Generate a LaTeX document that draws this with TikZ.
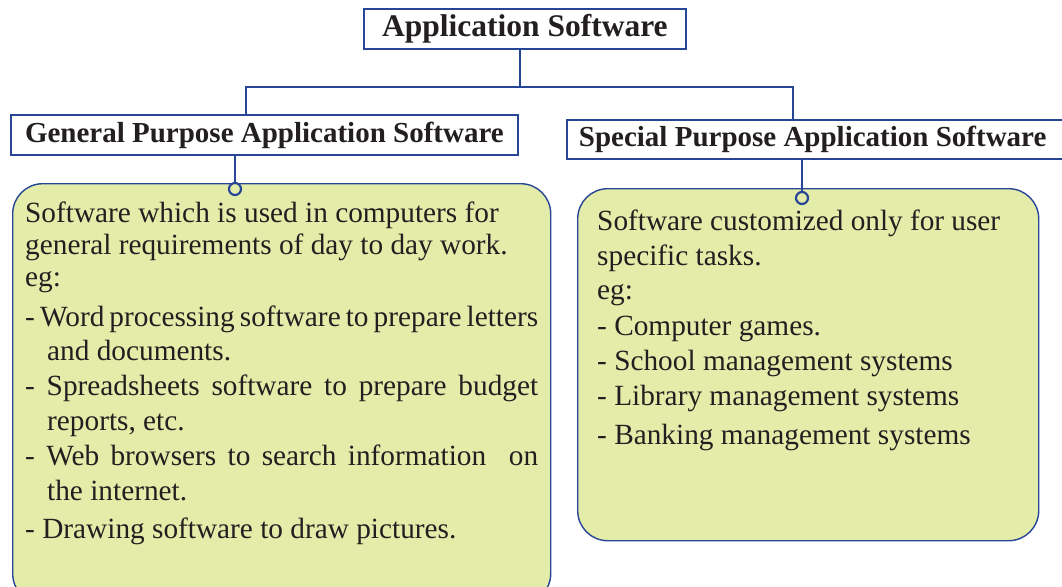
\documentclass[tikz,border=0pt]{standalone}
\usepackage{fontspec}
\setmainfont{Liberation Serif}
\definecolor{lineblue}{RGB}{40,70,150}
\definecolor{boxfill}{RGB}{228,236,170}
\definecolor{textgray}{RGB}{35,31,32}
\begin{document}
\begin{tikzpicture}[x=1pt,y=-1pt,
  hdr/.style={draw=lineblue, line width=1.8pt, fill=white, inner sep=0pt, text=textgray,
    font=\bfseries\fontsize{29}{34}\selectfont},
  gbox/.style={draw=lineblue, line width=1.4pt, fill=boxfill, rounded corners=30pt, inner sep=0pt},
  conn/.style={draw=lineblue, line width=2.6pt},
  dot/.style={circle, draw=lineblue, line width=2.2pt, fill=boxfill, minimum size=12pt, inner sep=0pt},
  txt/.style={anchor=base west, inner sep=0pt, text=textgray, font=\fontsize{29.3}{35}\selectfont}]
\useasboundingbox (0,0) rectangle (1062,586);
\fill[white] (0,0) rectangle (1062,586);
\clip (0,0) rectangle (1062,586);

% header boxes
\node[hdr, font=\bfseries\fontsize{31.5}{36}\selectfont, minimum width=322pt, minimum height=40pt, anchor=north west] (app) at (363,8) {Application Software};
\node[hdr, minimum width=507pt, minimum height=40pt, anchor=north west] (gph) at (10,114) {General Purpose Application Software};
\node[hdr, minimum height=39pt, inner xsep=12pt, anchor=north west] (sph) at (566,119) {\makebox[540pt][l]{Special Purpose Application Software}};

% tree connectors
\coordinate (jl) at (246,87);
\coordinate (jr) at (793,87);
\draw[conn] (app.south -| 520,0) -- (520,87);
\draw[conn] (jl |- gph.north) -- (jl) -- (jr) -- (jr |- sph.north);

% green boxes
\node[gbox, minimum width=538pt, minimum height=420pt, anchor=north west] (gl) at (12,183) {};
\node[gbox, minimum width=461pt, minimum height=352pt, anchor=north west] (gr) at (577,188) {};

% box connectors with dots
\node[dot] (dl) at (235,189) {};
\node[dot] (dr) at (802,198) {};
\draw[conn] (dl |- gph.south) -- (dl.north);
\draw[conn] (dr |- sph.south) -- (dr.north);

% left text
\node[txt] (l1) at (25,222) {Software which is used in computers for};
\node[txt] (l2) at (25,254) {general requirements of day to day work.};
\node[txt] (l3) at (25,286) {eg:};
\node[txt] (l4) at (25,326) {\makebox[513pt][s]{- Word processing software to prepare letters}};
\node[txt] (l5) at (47,360) {and documents.};
\node[txt] (l6) at (25,395) {\makebox[513pt][s]{- Spreadsheets software to prepare budget}};
\node[txt] (l7) at (47,430) {reports, etc.};
\node[txt] (l8) at (25,465) {\makebox[513pt][s]{- Web browsers to search information \ on}};
\node[txt] (l9) at (47,500) {the internet.};
\node[txt] (l10) at (25,538) {- Drawing software to draw pictures.};

% right text
\node[txt] (r1) at (597,230) {\makebox[403pt][s]{Software customized only for user}};
\node[txt] (r2) at (597,265) {specific tasks.};
\node[txt] (r3) at (597,299) {eg:};
\node[txt] (r4) at (597,335) {- Computer games.};
\node[txt] (r5) at (597,370) {- School management systems};
\node[txt] (r6) at (597,405) {- Library management systems};
\node[txt] (r7) at (597,444) {- Banking management systems};
\end{tikzpicture}
\end{document}
